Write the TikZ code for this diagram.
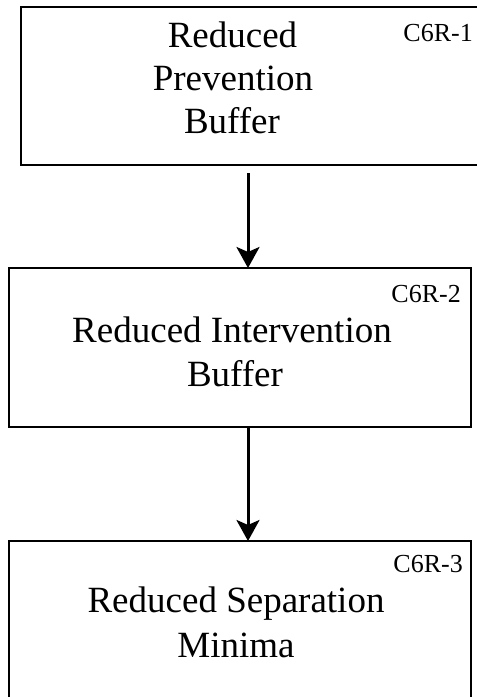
\documentclass[tikz,border=0pt]{standalone}
\usepackage{fontspec}
\setmainfont{Liberation Serif}
\usetikzlibrary{arrows.meta}

\tikzset{
  boxframe/.style={draw=black, line width=2.2pt, fill=none, inner sep=0pt, outer sep=0pt},
  maintext/.style={anchor=base, inner sep=0pt, font=\fontsize{37}{45}\selectfont},
  tagtext/.style={anchor=base east, inner sep=0pt, font=\fontsize{26}{30}\selectfont},
  flow/.style={line width=3pt, -{Stealth[length=21pt,width=23pt,inset=5pt]}}
}

\begin{document}
\begin{tikzpicture}[x=1pt, y=-1pt]
  \useasboundingbox (0,0) rectangle (477,697);

  % boxes
  \node[boxframe, minimum width=469pt, minimum height=158pt] (b1) at (255.5,86) {};
  \node[boxframe, minimum width=462pt, minimum height=159pt] (b2) at (240,347.5) {};
  \node[boxframe, minimum width=462pt, minimum height=170pt] (b3) at (240,626) {};

  % box 1
  \node[maintext] (t1a) at (232.5,47) {Reduced};
  \node[maintext] (t1b) at (233,90) {Prevention};
  \node[maintext] (t1c) at (232,133) {Buffer};
  \node[tagtext] (c1) at (473,41) {C6R-1};

  % box 2
  \node[maintext] (t2a) at (232,342) {Reduced Intervention};
  \node[maintext] (t2b) at (235,386) {Buffer};
  \node[tagtext] (c2) at (461,302) {C6R-2};

  % box 3
  \node[maintext] (t3a) at (236,612) {Reduced Separation};
  \node[maintext] (t3b) at (236,657) {Minima};
  \node[tagtext] (c3) at (463,572) {C6R-3};

  % connectors
  \coordinate (s1) at (248,173);
  \draw[flow] (s1) -- (s1 |- b2.north);
  \draw[flow] (b2.south -| s1) -- (b3.north -| s1);
\end{tikzpicture}
\end{document}
